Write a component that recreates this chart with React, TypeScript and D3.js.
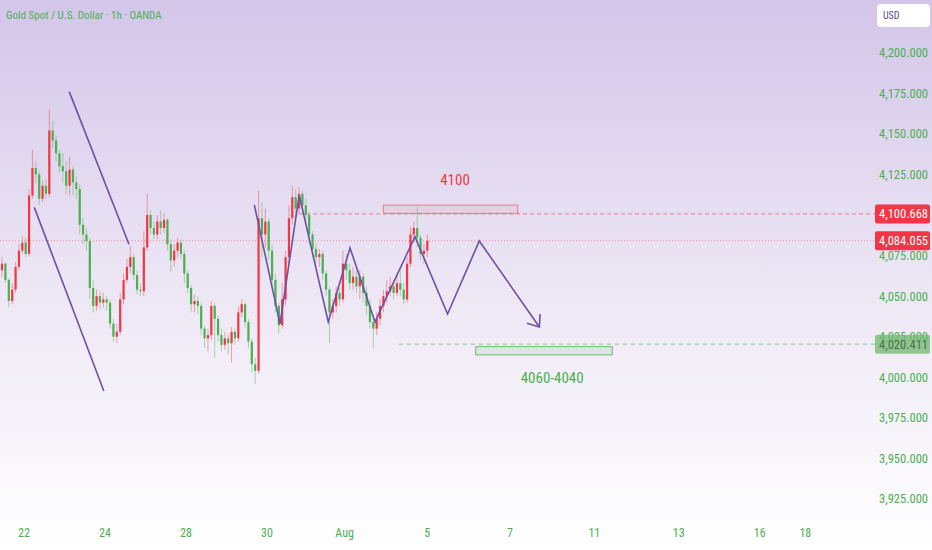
import { useEffect, useRef } from 'react';
import * as d3 from 'd3';

const WIDTH = 932;
const HEIGHT = 550;

// 2h candles, time in hours counted from the "22" session label
const barStartHour = -13;
const barStepHours = 2;
const firstOpen = 4066;
const closes = [
  4070, 4060, 4047, 4054, 4068, 4078, 4083, 4076, 4112, 4129,
  4125, 4110, 4118, 4113, 4152, 4146, 4138, 4130, 4127, 4118,
  4128, 4120, 4116, 4094, 4088, 4084, 4055, 4044, 4050, 4046,
  4048, 4046, 4033, 4025, 4028, 4048, 4060, 4068, 4074, 4063,
  4054, 4053, 4080, 4100, 4092, 4088, 4096, 4092, 4097, 4082,
  4072, 4078, 4083, 4076, 4064, 4055, 4045, 4047, 4044, 4030,
  4024, 4026, 4044, 4036, 4026, 4020, 4024, 4021, 4028, 4024,
  4040, 4045, 4034, 4022, 4008, 4004, 4098, 4088, 4096, 4078,
  4060, 4044, 4032, 4048, 4074, 4098, 4111, 4104, 4113, 4106,
  4100, 4088, 4079, 4074, 4076, 4064, 4054, 4040, 4044, 4052,
  4048, 4070, 4066, 4058, 4062, 4056, 4062, 4052, 4044, 4034,
  4030, 4036, 4044, 4050, 4053, 4056, 4052, 4058, 4054, 4048,
  4070, 4088, 4092, 4086, 4076, 4078, 4084.055,
];
const highs = [
  4074, 4071, 4061, 4058, 4071, 4082, 4087, 4086, 4116, 4140,
  4133, 4127, 4121, 4122, 4165, 4158, 4149, 4140, 4138, 4133,
  4136, 4130, 4124, 4119, 4098, 4092, 4086, 4060, 4054, 4053,
  4052, 4050, 4048, 4036, 4033, 4052, 4064, 4073, 4081, 4076,
  4066, 4058, 4090, 4113, 4103, 4096, 4100, 4103, 4101, 4098,
  4085, 4082, 4086, 4085, 4078, 4066, 4057, 4051, 4050, 4046,
  4032, 4030, 4047, 4046, 4038, 4030, 4028, 4027, 4031, 4030,
  4044, 4048, 4046, 4036, 4024, 4012, 4115, 4108, 4104, 4098,
  4082, 4064, 4046, 4058, 4078, 4106, 4118, 4116, 4117, 4115,
  4110, 4102, 4090, 4083, 4079, 4078, 4066, 4056, 4048, 4056,
  4055, 4078, 4076, 4070, 4068, 4066, 4066, 4064, 4056, 4048,
  4038, 4040, 4048, 4054, 4060, 4062, 4060, 4064, 4066, 4058,
  4074, 4093, 4096, 4105, 4088, 4082, 4088,
];
const lows = [
  4062, 4058, 4043, 4045, 4052, 4066, 4076, 4074, 4075, 4110,
  4120, 4106, 4108, 4110, 4111, 4141, 4133, 4126, 4120, 4113,
  4112, 4112, 4110, 4088, 4082, 4078, 4048, 4040, 4041, 4042,
  4043, 4041, 4030, 4022, 4021, 4026, 4045, 4058, 4064, 4060,
  4051, 4050, 4050, 4078, 4088, 4085, 4085, 4088, 4089, 4078,
  4065, 4068, 4074, 4073, 4058, 4052, 4040, 4040, 4039, 4026,
  4018, 4016, 4023, 4012, 4022, 4016, 4017, 4014, 4009, 4020,
  4022, 4037, 4030, 4018, 4003, 3996, 4002, 4074, 4080, 4072,
  4055, 4040, 4027, 4030, 4044, 4070, 4094, 4098, 4101, 4100,
  4096, 4082, 4074, 4070, 4068, 4060, 4050, 4021, 4036, 4040,
  4044, 4046, 4060, 4054, 4054, 4052, 4048, 4046, 4038, 4030,
  4018, 4026, 4032, 4040, 4046, 4050, 4048, 4050, 4050, 4045,
  4046, 4068, 4083, 4080, 4072, 4070, 4074,
];

const priceTicks = [3925, 3950, 3975, 4000, 4025, 4050, 4075, 4100, 4125, 4150, 4175, 4200];
const timeTickHours = [0, 48, 96, 144, 190, 239, 288, 338, 388, 436, 463];
const timeTickLabels = ['22', '24', '28', '30', 'Aug', '5', '7', '11', '13', '16', '18'];

// drawings: [hour, price]
const upperChannel: [number, number][] = [[26.8, 4176], [62.2, 4082]];
const lowerChannel: [number, number][] = [[6.1, 4104.7], [47.3, 3991.6]];
const zigzag: [number, number][] = [
  [136.5, 4106.2], [151.7, 4032.9], [163.1, 4112.3], [180.3, 4034.1], [193.2, 4079.7],
  [208.0, 4034.1], [231.7, 4086.6], [251.0, 4039.0], [269.8, 4084.0], [305.4, 4031.0],
];
const resistanceZone = { h0: 212.9, h1: 292.6, top: 4106.1, bottom: 4101.0 };
const supportZone = { h0: 267.7, h1: 348.6, top: 4018.9, bottom: 4013.8 };
const resistanceLabel = { text: '4100', hour: 255.4, price: 4122 };
const supportLabel = { text: '4060-4040', hour: 313, price: 4000 };

const lastPrice = 4084.055;
const highPrice = { value: 4100.668, fromHour: 163 };
const lowPrice = { value: 4020.411, fromHour: 222.2 };

const UP = '#f23645';
const DOWN = '#4caf50';
const PURPLE = '#6b52a3';
const FONT = '"Liberation Sans Narrow", "Roboto Condensed", Roboto, sans-serif';

export default function App() {
  const svgRef = useRef<SVGSVGElement>(null);

  useEffect(() => {
    document.body.style.margin = '0';
    if (!svgRef.current) return;
    const svg = d3.select(svgRef.current);
    svg.selectAll('*').remove();

    const x = d3.scaleLinear().domain([0, 24]).range([24, 64.5]);
    const y = d3.scaleLinear().domain([3925, 4200]).range([499, 52.7]);
    const axisX = 875;

    const grad = svg.append('defs').append('linearGradient')
      .attr('id', 'bg').attr('x1', '0%').attr('y1', '0%').attr('x2', '0%').attr('y2', '100%');
    grad.append('stop').attr('offset', '0%').attr('stop-color', '#d3c6e9');
    grad.append('stop').attr('offset', '55%').attr('stop-color', '#eee8f5');
    grad.append('stop').attr('offset', '100%').attr('stop-color', '#ffffff');

    svg.append('rect').attr('width', WIDTH).attr('height', HEIGHT).attr('fill', 'url(#bg)');

    // title
    svg.append('text')
      .attr('x', 6).attr('y', 19)
      .attr('fill', DOWN).attr('font-size', '11px').attr('font-family', FONT)
      .text('Gold Spot / U.S. Dollar · 1h · OANDA');

    // price lines
    svg.append('line')
      .attr('x1', 0).attr('x2', axisX).attr('y1', y(lastPrice)).attr('y2', y(lastPrice))
      .attr('stroke', 'rgba(242,54,69,0.55)').attr('stroke-width', 1).attr('stroke-dasharray', '1,2');
    svg.append('line')
      .attr('x1', x(highPrice.fromHour)).attr('x2', axisX)
      .attr('y1', y(highPrice.value)).attr('y2', y(highPrice.value))
      .attr('stroke', 'rgba(242,54,69,0.6)').attr('stroke-width', 1).attr('stroke-dasharray', '4,3');
    svg.append('line')
      .attr('x1', x(lowPrice.fromHour)).attr('x2', axisX)
      .attr('y1', y(lowPrice.value)).attr('y2', y(lowPrice.value))
      .attr('stroke', 'rgba(76,175,80,0.65)').attr('stroke-width', 1).attr('stroke-dasharray', '4,4');

    // candles
    const bars = closes.map((c, i) => ({
      hour: barStartHour + i * barStepHours,
      open: i === 0 ? firstOpen : closes[i - 1],
      close: c,
      high: highs[i],
      low: lows[i],
    }));
    const bodyW = 2.2;
    const cg = svg.append('g');
    cg.selectAll('.wick').data(bars).enter().append('line')
      .attr('x1', d => x(d.hour)).attr('x2', d => x(d.hour))
      .attr('y1', d => y(d.high)).attr('y2', d => y(d.low))
      .attr('stroke', d => (d.close >= d.open ? UP : DOWN))
      .attr('stroke-opacity', 0.45).attr('stroke-width', 1);
    cg.selectAll('.body').data(bars).enter().append('rect')
      .attr('x', d => x(d.hour) - bodyW / 2)
      .attr('width', bodyW)
      .attr('y', d => y(Math.max(d.open, d.close)))
      .attr('height', d => Math.max(1, Math.abs(y(d.open) - y(d.close))))
      .attr('fill', d => (d.close >= d.open ? UP : DOWN));

    // zones
    svg.append('rect')
      .attr('x', x(resistanceZone.h0)).attr('y', y(resistanceZone.top))
      .attr('width', x(resistanceZone.h1) - x(resistanceZone.h0))
      .attr('height', y(resistanceZone.bottom) - y(resistanceZone.top))
      .attr('fill', 'rgba(242,54,69,0.08)').attr('stroke', 'rgba(230,90,110,0.7)').attr('stroke-width', 1);
    svg.append('rect')
      .attr('x', x(supportZone.h0)).attr('y', y(supportZone.top))
      .attr('width', x(supportZone.h1) - x(supportZone.h0))
      .attr('height', y(supportZone.bottom) - y(supportZone.top))
      .attr('fill', 'rgba(76,175,80,0.12)').attr('stroke', 'rgba(76,175,80,0.8)').attr('stroke-width', 1);

    svg.append('text')
      .attr('x', x(resistanceLabel.hour)).attr('y', y(resistanceLabel.price))
      .attr('dy', '0.35em').attr('text-anchor', 'middle')
      .attr('fill', UP).attr('font-size', '15px').attr('font-family', FONT)
      .text(resistanceLabel.text);
    svg.append('text')
      .attr('x', x(supportLabel.hour)).attr('y', y(supportLabel.price))
      .attr('dy', '0.35em').attr('text-anchor', 'middle')
      .attr('fill', DOWN).attr('font-size', '15px').attr('font-family', FONT)
      .text(supportLabel.text);

    // trend drawings
    const line = d3.line<[number, number]>().x(d => x(d[0])).y(d => y(d[1]));
    [upperChannel, lowerChannel, zigzag].forEach(pts => {
      svg.append('path').datum(pts)
        .attr('d', line).attr('fill', 'none')
        .attr('stroke', PURPLE).attr('stroke-width', 1.6).attr('stroke-linejoin', 'miter');
    });

    // arrow head on last zigzag leg
    const [pa, pb] = zigzag.slice(-2);
    const ax = x(pb[0]);
    const ay = y(pb[1]);
    const ang = Math.atan2(ay - y(pa[1]), ax - x(pa[0]));
    const headLen = 13;
    const spread = (38 * Math.PI) / 180;
    const head = [ang + Math.PI - spread, ang + Math.PI + spread].map(a => [ax + headLen * Math.cos(a), ay + headLen * Math.sin(a)]);
    svg.append('path')
      .attr('d', `M${head[0][0]},${head[0][1]}L${ax},${ay}L${head[1][0]},${head[1][1]}`)
      .attr('fill', 'none').attr('stroke', PURPLE).attr('stroke-width', 1.6);

    // price axis
    svg.append('g').selectAll('text').data(priceTicks).enter().append('text')
      .attr('x', 928).attr('y', d => y(d)).attr('dy', '0.35em')
      .attr('text-anchor', 'end').attr('fill', DOWN)
      .attr('font-size', '12.5px').attr('font-family', FONT)
      .text(d => d3.format(',.3f')(d));

    const priceTag = (value: number, fill: string, textFill: string, opacity: number) => {
      const yy = y(value);
      svg.append('rect')
        .attr('x', axisX).attr('y', yy - 9.5).attr('width', 55).attr('height', 19)
        .attr('rx', 2).attr('fill', fill).attr('fill-opacity', opacity);
      svg.append('text')
        .attr('x', 928).attr('y', yy).attr('dy', '0.35em').attr('text-anchor', 'end')
        .attr('fill', textFill).attr('font-size', '12.5px').attr('font-family', FONT)
        .text(d3.format(',.3f')(value));
    };
    priceTag(highPrice.value, UP, '#ffffff', 1);
    priceTag(lastPrice, UP, '#ffffff', 1);
    priceTag(lowPrice.value, '#6fb86f', '#4f6f4a', 0.75);

    // currency box
    svg.append('rect')
      .attr('x', 877).attr('y', 4).attr('width', 53).attr('height', 23).attr('rx', 4)
      .attr('fill', '#ffffff');
    svg.append('text')
      .attr('x', 883).attr('y', 15.5).attr('dy', '0.35em')
      .attr('fill', '#5b4a8b').attr('font-size', '10px').attr('font-family', FONT)
      .text('USD');

    // time axis
    svg.append('g').selectAll('text').data(timeTickHours).enter().append('text')
      .attr('x', d => x(d)).attr('y', 537).attr('text-anchor', 'middle')
      .attr('fill', DOWN).attr('font-size', '12px').attr('font-family', FONT)
      .text((_, i) => timeTickLabels[i]);
  }, []);

  return <svg ref={svgRef} width={WIDTH} height={HEIGHT} style={{ display: 'block' }} />;
}
